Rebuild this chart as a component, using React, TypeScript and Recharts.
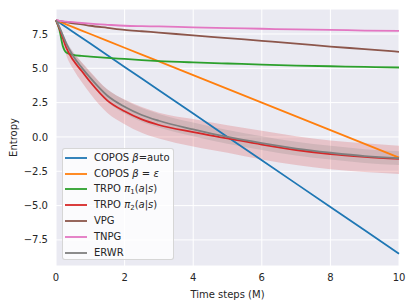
import React from 'react';
import { ComposedChart, Line, Area, XAxis, YAxis, CartesianGrid } from 'recharts';

const steps = [0, 0.1, 0.2, 0.3, 0.5, 0.75, 1, 1.5, 2, 2.5, 3, 4, 5, 6, 7, 8, 9, 10];

const coposAuto = [8.5, 8.33, 8.16, 7.99, 7.65, 7.23, 6.8, 5.95, 5.1, 4.25, 3.4, 1.7, 0, -1.7, -3.4, -5.1, -6.8, -8.5];
const coposEps = [8.5, 8.4, 8.3, 8.2, 8.0, 7.75, 7.5, 7.0, 6.5, 6.0, 5.5, 4.5, 3.5, 2.5, 1.5, 0.5, -0.5, -1.5];
const trpo1 = [8.5, 7.8, 6.6, 6.15, 5.98, 5.9, 5.85, 5.76, 5.68, 5.6, 5.53, 5.43, 5.35, 5.27, 5.2, 5.15, 5.1, 5.06];
const trpo2 = [8.5, 7.9, 7.2, 6.5, 5.6, 4.8, 4.0, 2.65, 1.87, 1.28, 0.87, 0.35, -0.1, -0.55, -0.95, -1.25, -1.45, -1.6];
const trpo2High = [8.5, 8.1, 7.55, 6.95, 6.15, 5.45, 4.75, 3.45, 2.72, 2.18, 1.77, 1.3, 0.85, 0.45, 0.05, -0.25, -0.45, -0.65];
const trpo2Low = [8.5, 7.7, 6.8, 5.95, 4.95, 4.0, 3.15, 1.75, 0.93, 0.3, -0.12, -0.7, -1.15, -1.65, -2.05, -2.35, -2.55, -2.7];
const vpg = [8.5, 8.45, 8.4, 8.36, 8.28, 8.2, 8.1, 7.95, 7.8, 7.7, 7.6, 7.4, 7.2, 7.0, 6.8, 6.58, 6.4, 6.2];
const tnpg = [8.5, 8.46, 8.43, 8.4, 8.36, 8.3, 8.25, 8.17, 8.1, 8.07, 8.05, 7.98, 7.93, 7.88, 7.83, 7.8, 7.75, 7.72];
const erwr = [8.5, 8.0, 7.4, 6.8, 5.9, 5.05, 4.3, 3.0, 2.2, 1.6, 1.18, 0.55, 0.0, -0.45, -0.85, -1.15, -1.4, -1.55];
const erwrHigh = [8.5, 8.1, 7.55, 7.0, 6.2, 5.4, 4.7, 3.45, 2.7, 2.1, 1.68, 1.05, 0.5, 0.05, -0.35, -0.65, -0.9, -1.05];
const erwrLow = [8.5, 7.9, 7.25, 6.6, 5.6, 4.7, 3.9, 2.55, 1.7, 1.1, 0.68, 0.05, -0.5, -0.95, -1.35, -1.65, -1.9, -2.05];

const xTicks = [0, 2, 4, 6, 8, 10];
const yTicks = [-7.5, -5, -2.5, 0, 2.5, 5, 7.5];

const seriesKeys = ['coposAuto', 'coposEps', 'trpo1', 'trpo2', 'vpg', 'tnpg', 'erwr'];
const seriesColors = ['#1f77b4', '#ff7f0e', '#2ca02c', '#d62728', '#8c564b', '#e377c2', '#7f7f7f'];
const curved = [false, false, true, true, true, true, true];

const data = steps.map((t, i) => ({
  t,
  coposAuto: coposAuto[i],
  coposEps: coposEps[i],
  trpo1: trpo1[i],
  trpo2: trpo2[i],
  vpg: vpg[i],
  tnpg: tnpg[i],
  erwr: erwr[i],
  trpo2Band: [trpo2Low[i], trpo2High[i]],
  erwrBand: [erwrLow[i], erwrHigh[i]],
}));

const fmtY = (v: number) => (v < 0 ? '\u2212' + Math.abs(v).toFixed(1) : v.toFixed(1));

const I = ({ children }: { children: React.ReactNode }) => <i>{children}</i>;
const Sub = ({ children }: { children: React.ReactNode }) => (
  <span style={{ fontSize: 7, position: 'relative', top: 2 }}>{children}</span>
);

const legendLabels: React.ReactNode[] = [
  <>COPOS <I>β</I>=auto</>,
  <>COPOS <I>β</I> = <I>ε</I></>,
  <>TRPO <I>π</I><Sub>1</Sub>(<I>a</I>|<I>s</I>)</>,
  <>TRPO <I>π</I><Sub>2</Sub>(<I>a</I>|<I>s</I>)</>,
  <>VPG</>,
  <>TNPG</>,
  <>ERWR</>,
];

const tickStyle = { fill: '#262626', fontSize: 10 };

export default function App() {
  return (
    <div style={{ position: 'absolute', left: 0, top: 0, width: 415, height: 307, background: '#fff', fontFamily: 'DejaVu Sans' }}>
      <ComposedChart width={415} height={307} data={data} margin={{ top: 9, right: 16, bottom: 0, left: 0 }}>
        <CartesianGrid fill="#eaeaf2" stroke="#ffffff" strokeWidth={1} />
        <XAxis
          dataKey="t"
          type="number"
          domain={[0, 10]}
          ticks={xTicks}
          axisLine={false}
          tickLine={false}
          height={41}
          tick={tickStyle}
          label={{ value: 'Time steps (M)', position: 'insideBottom', offset: 9, fill: '#262626', fontSize: 10 }}
        />
        <YAxis
          type="number"
          domain={[-9.4, 9.32]}
          ticks={yTicks}
          allowDataOverflow
          axisLine={false}
          tickLine={false}
          width={56}
          tick={tickStyle}
          tickFormatter={fmtY}
          label={{ value: 'Entropy', angle: -90, position: 'center', dx: -15, fill: '#262626', fontSize: 10 }}
        />
        <Area dataKey="trpo2Band" type="monotone" stroke="none" fill="#d62728" fillOpacity={0.2} isAnimationActive={false} />
        <Area dataKey="erwrBand" type="monotone" stroke="none" fill="#7f7f7f" fillOpacity={0.2} isAnimationActive={false} />
        {seriesKeys.map((k, i) => (
          <Line
            key={k}
            dataKey={k}
            type={curved[i] ? 'monotone' : 'linear'}
            stroke={seriesColors[i]}
            strokeWidth={1.8}
            dot={false}
            isAnimationActive={false}
          />
        ))}
      </ComposedChart>
      <div
        style={{
          position: 'absolute',
          left: 62,
          top: 148,
          width: 112,
          height: 112,
          background: 'rgba(255,255,255,0.8)',
          border: '1px solid rgba(204,204,204,0.8)',
          borderRadius: 3,
          boxSizing: 'border-box',
          paddingTop: 1,
        }}
      >
        {legendLabels.map((lab, i) => (
          <div key={i} style={{ display: 'flex', alignItems: 'center', height: 15.8, fontSize: 10, color: '#262626', whiteSpace: 'nowrap' }}>
            <svg width={22} height={4} style={{ marginLeft: 2, marginRight: 7, flex: 'none' }}>
              <line x1={0} y1={2} x2={22} y2={2} stroke={seriesColors[i]} strokeWidth={1.8} />
            </svg>
            <span style={{ lineHeight: '12px' }}>{lab}</span>
          </div>
        ))}
      </div>
    </div>
  );
}
